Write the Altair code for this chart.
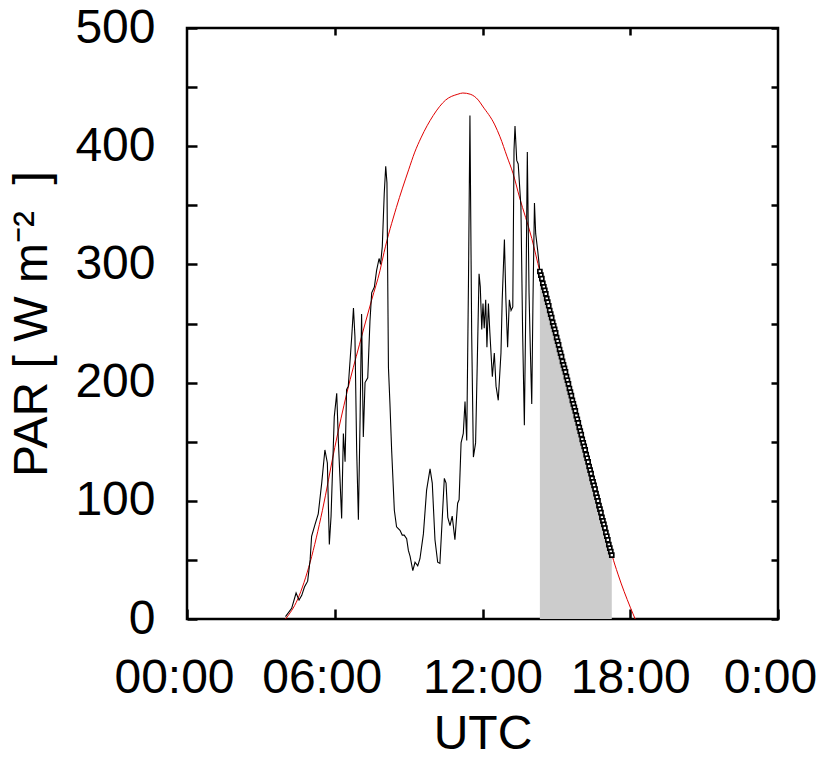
import altair as alt
import pandas as pd

# Measured PAR (black line), hours UTC / W m-2
black_t = [4.00, 4.25, 4.43, 4.55, 4.66, 4.77, 4.90, 5.00, 5.06, 5.20,
           5.33, 5.47, 5.60, 5.70, 5.78, 5.85, 5.98, 6.08, 6.15, 6.21,
           6.28, 6.35, 6.42, 6.48, 6.55, 6.69, 6.76, 6.82, 6.89, 6.96,
           7.03, 7.09, 7.16, 7.23, 7.34, 7.43, 7.50, 7.61, 7.70, 7.80,
           7.86, 7.93, 8.01, 8.07, 8.12, 8.18, 8.24, 8.31, 8.42, 8.51,
           8.65, 8.74, 8.82, 8.92, 8.99, 9.06, 9.17, 9.26, 9.37, 9.46,
           9.60, 9.73, 9.87, 9.96, 10.07, 10.18, 10.27, 10.37, 10.45, 10.52,
           10.59, 10.68, 10.77, 10.88, 10.99, 11.05, 11.13, 11.22, 11.29, 11.36,
           11.43, 11.49, 11.56, 11.63, 11.72, 11.79, 11.86, 11.91, 11.97, 12.02,
           12.07, 12.13, 12.18, 12.24, 12.30, 12.40, 12.48, 12.55, 12.64, 12.75,
           12.80, 12.89, 12.95, 13.02, 13.09, 13.16, 13.23, 13.28, 13.32, 13.39,
           13.45, 13.56, 13.63, 13.70, 13.77, 13.82, 13.89, 13.94, 14.00, 14.05,
           14.11, 14.16, 14.24, 14.33]
black_v = [2, 9, 22, 16, 20, 27, 32, 50, 70, 80,
           89, 115, 143, 132, 63, 87, 171, 191, 149, 120,
           85, 157, 133, 194, 197, 239, 263, 239, 143, 84,
           171, 258, 154, 200, 204, 252, 276, 281, 295, 305,
           300, 315, 360, 383, 369, 213, 183, 143, 92, 78,
           75, 71, 71, 68, 58, 53, 41, 48, 45, 51,
           72, 109, 127, 115, 67, 48, 47, 87, 119, 115,
           86, 79, 87, 67, 98, 101, 149, 157, 184, 151,
           284, 426, 242, 137, 149, 219, 292, 281, 245, 267,
           246, 270, 230, 267, 242, 205, 225, 197, 185, 225,
           270, 321, 270, 230, 270, 261, 264, 397, 417, 388,
           385, 349, 242, 164, 284, 395, 276, 230, 182, 270,
           352, 326, 312, 294]

# Clear-sky curve (red line)
red_t = [4.0, 4.5, 5.0, 5.5, 6.0, 6.5, 7.0, 7.5, 7.84, 8.0, 8.5, 9.0, 9.25, 9.5,
         10.0, 10.5, 11.0, 11.2, 11.5, 11.83, 12.0, 12.5, 12.71, 13.0, 13.24, 13.5,
         14.0, 14.33, 14.5, 15.0, 15.5, 16.0, 16.5, 17.0, 17.26, 17.5, 18.0, 18.2]
red_v = [0, 17, 48, 92, 145, 192, 232, 270, 295, 310, 348, 380, 395, 407,
         426, 439, 444, 445, 444, 439, 434, 418, 408, 391, 377, 357,
         322, 294, 281, 240, 199, 157, 117, 76, 54, 38, 10, 0]

# Gap-filled values (square markers, shaded area)
mark_t = [14.33, 14.37, 14.41, 14.45, 14.49, 14.53, 14.57, 14.61, 14.65, 14.69,
          14.73, 14.77, 14.81, 14.85, 14.89, 14.93, 14.97, 15.01, 15.05, 15.09,
          15.13, 15.17, 15.21, 15.25, 15.29, 15.33, 15.37, 15.41, 15.45, 15.49,
          15.53, 15.57, 15.61, 15.65, 15.69, 15.73, 15.77, 15.81, 15.85, 15.89,
          15.93, 15.97, 16.01, 16.05, 16.09, 16.13, 16.17, 16.21, 16.25, 16.29,
          16.33, 16.37, 16.41, 16.45, 16.49, 16.53, 16.57, 16.61, 16.65, 16.69,
          16.73, 16.77, 16.81, 16.85, 16.89, 16.93, 16.97, 17.01, 17.05, 17.09,
          17.13, 17.17, 17.21, 17.25]
mark_v = [294, 291, 288, 284, 281, 278, 275, 271, 268, 265,
          261, 258, 255, 251, 248, 245, 242, 238, 235, 232,
          228, 225, 222, 218, 215, 212, 209, 205, 202, 199,
          195, 192, 189, 185, 182, 179, 176, 172, 169, 166,
          162, 159, 156, 152, 149, 146, 143, 139, 136, 133,
          129, 126, 123, 119, 116, 113, 110, 106, 103, 100,
          96, 93, 90, 86, 83, 80, 77, 73, 70, 67,
          63, 60, 57, 54]

x_ticks = [0, 6, 12, 18, 24]
x_top_ticks = [6, 12, 18]
y_ticks = [0, 50, 100, 150, 200, 250, 300, 350, 400, 450, 500]

black_df = pd.DataFrame({"t": black_t, "v": black_v})
red_df = pd.DataFrame({"t": red_t, "v": red_v})
mark_df = pd.DataFrame({"t": mark_t, "v": mark_v})

FONT = "Liberation Sans"
xs = alt.Scale(domain=[0, 24], nice=False, zero=False)
ys = alt.Scale(domain=[0, 500], nice=False)

x_axis = alt.Axis(
    orient="bottom", values=x_ticks,
    labelExpr=("datum.value == 24 ? '0:00' : "
               "(datum.value < 10 ? '0' : '') + datum.value + ':00'"),
    labelOffset={"condition": [{"test": "datum.value <= 6", "value": -13},
                               {"test": "datum.value >= 24", "value": -8}],
                 "value": 0},
    offset=-10, tickSize=10, tickWidth=2.5, tickColor="black",
    domain=False, grid=False, labelFlush=False, labelOverlap=False,
    labelFont=FONT, labelFontSize=48, labelColor="black", labelPadding=35,
    title="UTC", titleFont=FONT, titleFontSize=48, titleFontWeight="normal",
    titleColor="black", titlePadding=8,
)
y_axis = alt.Axis(
    orient="left", values=y_ticks,
    labelExpr="datum.value % 100 == 0 ? datum.label : ''",
    offset=-10, tickSize=10, tickWidth=2.5, tickColor="black",
    domain=False, grid=False, labelFlush=False, labelOverlap=False,
    labelFont=FONT, labelFontSize=48, labelColor="black", labelPadding=32,
    title="PAR [ W m\u207b\u00b2\u00a0 ]", titleFont=FONT, titleFontSize=48,
    titleFontWeight="normal", titleColor="black", titlePadding=18,
)

X = alt.X("t:Q", scale=xs, axis=x_axis)
Y = alt.Y("v:Q", scale=ys, axis=y_axis)

area = alt.Chart(mark_df).mark_area(color="#cccccc", opacity=1).encode(x=X, y=Y)
red = alt.Chart(red_df).mark_line(color="#e00000", strokeWidth=1.0, interpolate="monotone").encode(x=X, y=Y)
black = alt.Chart(black_df).mark_line(color="black", strokeWidth=1.1).encode(x=X, y=Y)
marks = alt.Chart(mark_df).mark_point(
    shape="square", filled=False, fill="white", fillOpacity=1,
    stroke="black", strokeWidth=1.7, size=16, opacity=1
).encode(x=X, y=Y)

main = alt.layer(area, red, black, marks)

dummy = alt.Chart(red_df).mark_point(opacity=0).encode(
    x=alt.X("t:Q", scale=xs, axis=alt.Axis(
        orient="top", values=x_top_ticks, labels=False, tickSize=7, offset=-7,
        tickWidth=2.5, tickColor="black", domain=False, grid=False, title=None)),
    y=alt.Y("v:Q", scale=ys, axis=alt.Axis(
        orient="right", values=y_ticks, labels=False, tickSize=7, offset=-7,
        tickWidth=2.5, tickColor="black", domain=False, grid=False, title=None)),
)

chart = alt.layer(main, dummy).resolve_scale(
    x="independent", y="independent"
).properties(
    width=591, height=591,
    padding={"left": 179, "top": 20, "right": 42, "bottom": 135},
    autosize=alt.AutoSizeParams(type="none"),
).configure_view(stroke="black", strokeWidth=2.5)

chart.save("out.html", embed_options={"renderer": "svg", "actions": False})
